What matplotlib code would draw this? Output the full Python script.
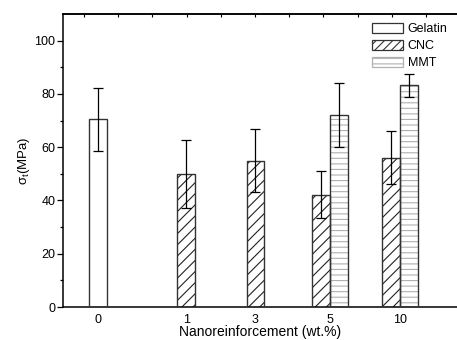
import numpy as np
import matplotlib
matplotlib.use("Agg")
import matplotlib.pyplot as plt
from matplotlib.patches import Patch

plt.rcParams['font.family'] = ['Liberation Sans', 'DejaVu Sans']
plt.rcParams['hatch.linewidth'] = 0.8

# data
categories = ["0", "1", "3", "5", "10"]
gelatin = [70.4, None, None, None, None]
gelatin_err = [11.7, None, None, None, None]
cnc = [None, 50.0, 55.0, 42.2, 56.0]
cnc_err = [None, 12.8, 11.7, 8.8, 10.0]
mmt = [None, None, None, 72.1, 83.2]
mmt_err = [None, None, None, 12.1, 4.2]

# layout
xpos = np.array([0.5, 1.76, 2.75, 3.82, 4.82])
w = 0.257
edge = '#333333'

fig = plt.figure(figsize=(4.57, 3.40), dpi=100)
ax = fig.add_axes([63/457, 33/340, 1 - 63/457, 293/340])

def draw(vals, errs, offsets, hatch, hcolor, label):
    xs, ys, es = [], [], []
    for i, (v, e) in enumerate(zip(vals, errs)):
        if v is None:
            continue
        xs.append(xpos[i] + offsets[i]); ys.append(v); es.append(e)
    ax.bar(xs, ys, width=w, color='white', edgecolor=hcolor, hatch=hatch, linewidth=0, zorder=2)
    ax.bar(xs, ys, width=w, fill=False, edgecolor=edge, linewidth=1.0, zorder=3)
    ax.errorbar(xs, ys, yerr=es, fmt='none', ecolor='black', elinewidth=0.9,
                capsize=3.5, capthick=0.9, zorder=4)

both = [m is not None for m in mmt]
cnc_off = [-w/2 if b else 0 for b in both]
mmt_off = [w/2 if b else 0 for b in both]
draw(gelatin, gelatin_err, [0]*5, None, edge, 'Gelatin')
draw(cnc, cnc_err, cnc_off, '///', '#222222', 'CNC')
draw(mmt, mmt_err, mmt_off, '---', '#b0b0b0', 'MMT')

ax.set_xlim(0, 394/70)
ax.set_ylim(0, 110)
ax.set_xticks(xpos)
ax.set_xticklabels(categories, fontsize=9)
ax.tick_params(axis='x', length=0, pad=5)
ax.set_yticks(np.arange(0, 101, 20))
ax.set_yticks(np.arange(10, 110, 20), minor=True)
ax.tick_params(axis='y', which='major', length=4, width=0.9, labelsize=9, direction='out', pad=1.5)
ax.tick_params(axis='y', which='minor', length=2, width=0.9, direction='out')
for s in ['left', 'bottom', 'top']:
    ax.spines[s].set_linewidth(1.1)
ax.spines['right'].set_visible(False)

sec = ax.secondary_xaxis('top')
sec.set_xticks(np.arange(0.3, 5.5, 0.4886))
sec.set_xticklabels([])
sec.tick_params(direction='in', length=2, width=0.8)
sec.spines['top'].set_linewidth(1.1)

ax.set_xlabel('Nanoreinforcement (wt.%)', fontsize=10, labelpad=-1)
ax.set_ylabel('σ$_\\mathregular{t}$(MPa)', fontsize=9.5, labelpad=2)

handles = [
    Patch(facecolor='white', edgecolor=edge, linewidth=0.9, label='Gelatin'),
    Patch(facecolor='white', edgecolor=edge, hatch='////', linewidth=0.9, label='CNC'),
    Patch(facecolor='white', edgecolor='#b0b0b0', hatch='---', linewidth=0.9, label='MMT'),
]
leg = ax.legend(handles=handles, loc='upper right', bbox_to_anchor=(1.0, 1.0), frameon=False,
                fontsize=9, handlelength=2.5, handleheight=0.8, handletextpad=0.35,
                labelspacing=0.38, borderaxespad=0.35)

fig.savefig('out.png', dpi=100)
